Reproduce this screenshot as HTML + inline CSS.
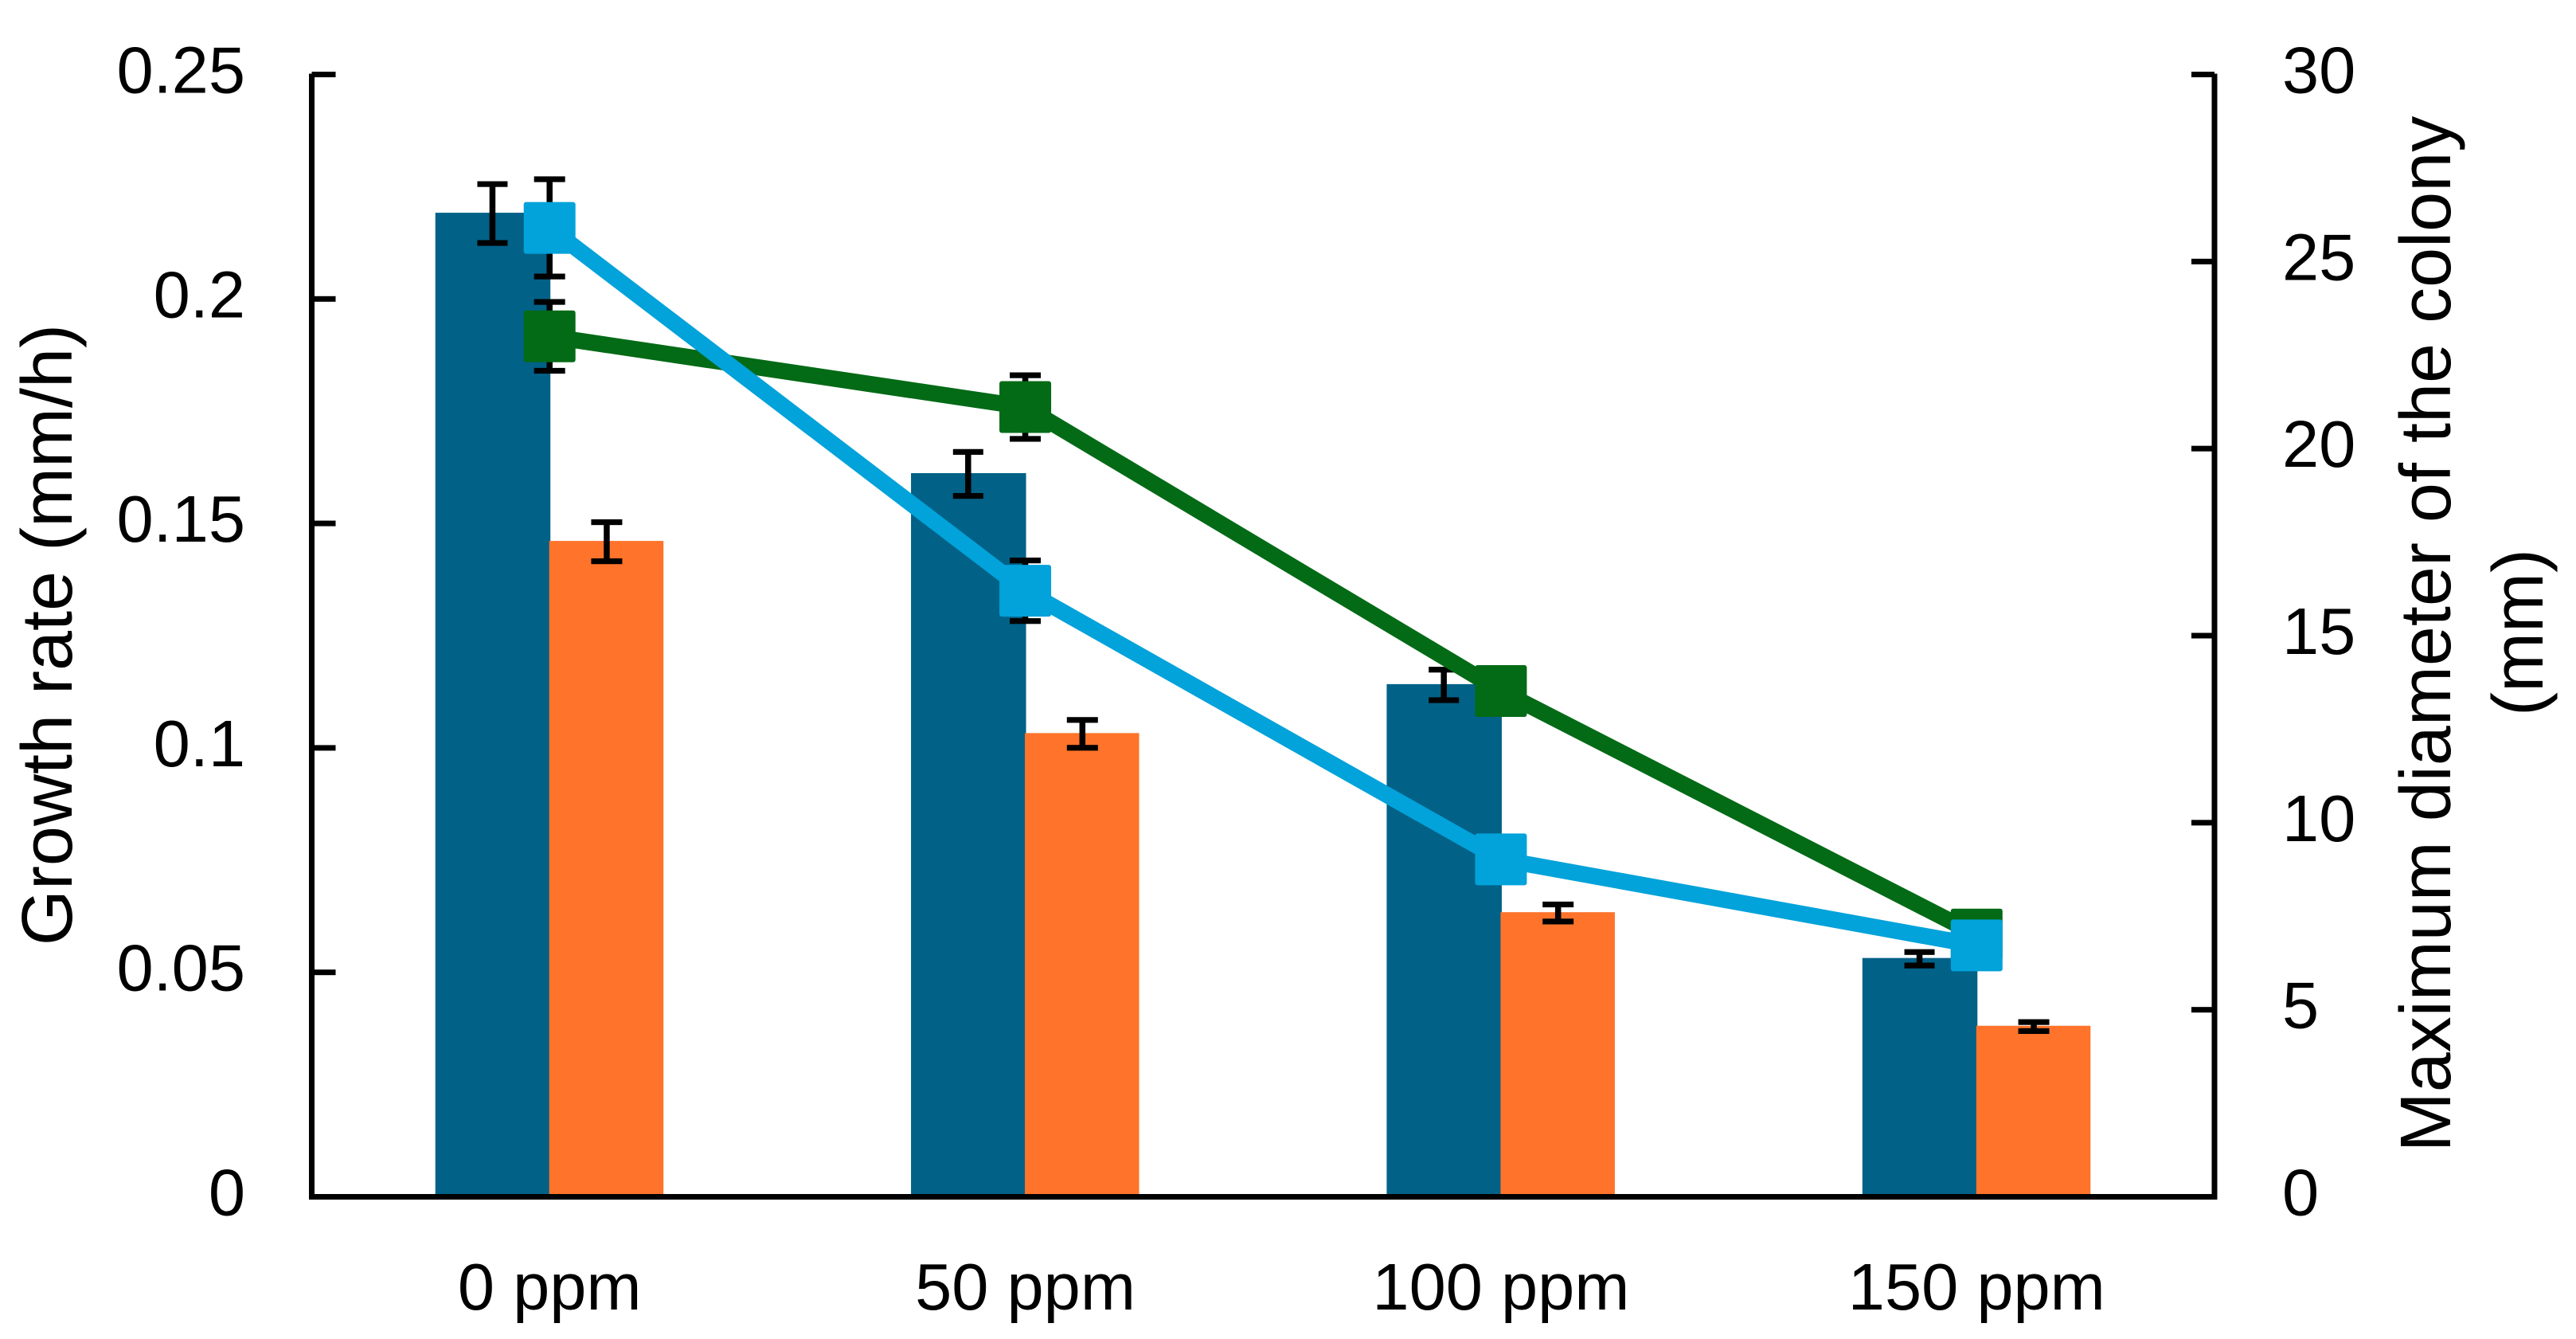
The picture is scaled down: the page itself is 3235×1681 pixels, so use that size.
<!DOCTYPE html>
<html lang="en">
<head>
<meta charset="utf-8">
<title>Growth rate and maximum colony diameter</title>
<style>
  html, body { margin: 0; padding: 0; background: #ffffff; }
  svg { display: block; }
  text { font-family: "Liberation Sans", sans-serif; fill: #000000; }
</style>
</head>
<body>
<svg id="chart" xmlns="http://www.w3.org/2000/svg" width="3235" height="1681" viewBox="0 0 3235 1681">
  <rect x="0" y="0" width="3235" height="1681" fill="#ffffff"/>
  <g id="bars"></g>
  <g id="errors"></g>
  <g id="axes"></g>
  <g id="lines"></g>
  <text transform="translate(90,797) rotate(-90)" text-anchor="middle" font-size="90">Growth rate (mm/h)</text>
  <text transform="translate(3077,796) rotate(-90)" text-anchor="middle" font-size="90">Maximum diameter of the colony</text>
  <text transform="translate(3193,794) rotate(-90)" text-anchor="middle" font-size="90">(mm)</text>
</svg>
<script>
const categories = ["0 ppm", "50 ppm", "100 ppm", "150 ppm"];
const leftTicks = [0, 0.05, 0.1, 0.15, 0.2, 0.25];
const leftTickLabels = ["0", "0.05", "0.1", "0.15", "0.2", "0.25"];
const rightTicks = [0, 5, 10, 15, 20, 25, 30];
const rightTickLabels = ["0", "5", "10", "15", "20", "25", "30"];
const blueBarValues = [0.2192, 0.1612, 0.1142, 0.0532];
const blueBarErrors = [0.00656, 0.0049, 0.0034, 0.0015];
const orangeBarValues = [0.1461, 0.1033, 0.0634, 0.0381];
const orangeBarErrors = [0.00435, 0.0031, 0.0019, 0.001];
const greenLineValues = [23.0, 21.11, 13.52, 7.01];
const greenLineErrors = [0.92, 0.85, 0.4, 0.3];
const cyanLineValues = [25.9, 16.2, 9.02, 6.72];
const cyanLineErrors = [1.3, 0.81, 0.4, 0.3];

const leftMax = 0.25;
const rightMax = 30;
const plot = { left: 391.5, right: 2781, top: 93.5, bottom: 1502.5 };
const SVGNS = "http://www.w3.org/2000/svg";

function yLeft(v) { return plot.bottom - (v / leftMax) * (plot.bottom - plot.top); }
function yRight(v) { return plot.bottom - (v / rightMax) * (plot.bottom - plot.top); }
function xBand(i) { return plot.left + (i + 0.5) * (plot.right - plot.left) / categories.length; }

function mk(parent, tag, attrs, text) {
  const el = document.createElementNS(SVGNS, tag);
  for (const k in attrs) el.setAttribute(k, attrs[k]);
  if (text !== undefined) el.textContent = text;
  parent.appendChild(el);
  return el;
}

const barsLayer = document.getElementById("bars");
const errorsLayer = document.getElementById("errors");
const axesLayer = document.getElementById("axes");
const linesLayer = document.getElementById("lines");
const barWidth = 143.5;

function drawError(parent, x, yc, halfPx, capW, prefix) {
  const stem = mk(parent, "rect", { x: x - 3.75, y: yc - halfPx, width: 7.5, height: 2 * halfPx, fill: "#000" });
  
  
  const top = mk(parent, "rect", { x: x - capW / 2, y: yc - halfPx - 3.6, width: capW, height: 7.2, fill: "#000" });
  
  
  const bot = mk(parent, "rect", { x: x - capW / 2, y: yc + halfPx - 3.6, width: capW, height: 7.2, fill: "#000" });
  
  
}

categories.forEach(function (c, i) {
  const cx = xBand(i);
  const blueTop = yLeft(blueBarValues[i]);
  const blue = mk(barsLayer, "rect", { x: cx - barWidth, y: blueTop, width: barWidth + 1, height: plot.bottom - blueTop, fill: "#016187" });
  
  
  const orangeTop = yLeft(orangeBarValues[i]);
  const orange = mk(barsLayer, "rect", { x: cx - 0.5, y: orangeTop, width: barWidth, height: plot.bottom - orangeTop, fill: "#FF732B" });
  
  
  drawError(errorsLayer, cx - barWidth / 2, blueTop + 1, plot.bottom - yLeft(blueBarErrors[i]), 38, 'blue-bar-error-' + i);
  drawError(errorsLayer, cx + barWidth / 2, orangeTop + 1, plot.bottom - yLeft(orangeBarErrors[i]), 39, 'orange-bar-error-' + i);

  const label = mk(axesLayer, "text", { x: cx, y: 1644, "text-anchor": "middle", "font-size": 83 }, c);
  
  
});

const leftAxis = mk(axesLayer, "rect", { x: plot.left - 3.5, y: plot.top - 1, width: 7, height: plot.bottom - plot.top + 4.5, fill: "#000" });


const rightAxis = mk(axesLayer, "rect", { x: plot.right - 3.5, y: plot.top - 1, width: 7, height: plot.bottom - plot.top + 4.5, fill: "#000" });


const bottomAxis = mk(axesLayer, "rect", { x: plot.left - 3.5, y: plot.bottom - 3.5, width: plot.right - plot.left + 7, height: 7, fill: "#000" });



leftTicks.forEach(function (t, i) {
  const y = yLeft(t);
  if (t > 0) {
    const tick = mk(axesLayer, "rect", { x: plot.left, y: y - 3.5, width: 30, height: 7, fill: "#000" });
    
    
  }
  const label = mk(axesLayer, "text", { x: 308, y: y + 23, "text-anchor": "end", "font-size": 83 }, leftTickLabels[i]);
  
  
});

rightTicks.forEach(function (t, i) {
  const y = yRight(t);
  if (t > 0) {
    const tick = mk(axesLayer, "rect", { x: plot.right - 29, y: y - 3.5, width: 29, height: 7, fill: "#000" });
    
    
  }
  const label = mk(axesLayer, "text", { x: 2866, y: y + 23, "text-anchor": "start", "font-size": 83 }, rightTickLabels[i]);
  
  
});

function drawLineErrors(values, errors, prefix) {
  values.forEach(function (v, i) {
    drawError(linesLayer, xBand(i), yRight(v), plot.bottom - yRight(errors[i]), 39, prefix + '-error-' + i);
  });
}
function drawLine(values, color, prefix) {
  const pts = values.map(function (v, i) { return xBand(i) + "," + yRight(v); }).join(" ");
  const line = mk(linesLayer, "polyline", { points: pts, fill: "none", stroke: color, "stroke-width": 20.5, "stroke-linejoin": "round" });
  
  
  values.forEach(function (v, i) {
    const m = mk(linesLayer, "rect", { x: xBand(i) - 32.5, y: yRight(v) - 32.5, width: 65, height: 65, rx: 3, ry: 3, fill: color });
    
    
  });
}
drawLineErrors(greenLineValues, greenLineErrors, 'green');
drawLineErrors(cyanLineValues, cyanLineErrors, 'cyan');
drawLine(greenLineValues, "#036A16", 'green');
drawLine(cyanLineValues, "#02A2DA", 'cyan');
</script>
</body>
</html>
